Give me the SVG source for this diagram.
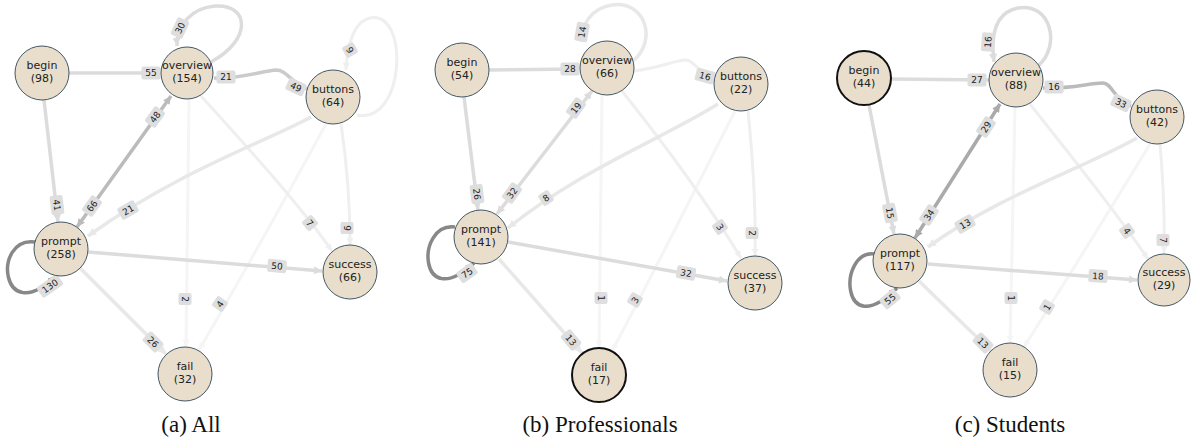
<svg xmlns="http://www.w3.org/2000/svg" width="1191" height="442" viewBox="0 0 1191 442">
<style>
.n{fill:#e8decb;stroke:#445866;stroke-width:1}
.n.hl{stroke:#111;stroke-width:2}
.nt{font-family:"DejaVu Sans",sans-serif;font-size:11px;fill:#222;text-anchor:middle}
.e{fill:none;stroke-width:3.5;stroke-linecap:butt}
.e1{stroke:#888}.e2{stroke:#aaa}.e3{stroke:#bbb}.e4{stroke:#cbcbcb}.e5{stroke:#dcdcdc}.e6{stroke:#e8e8e8}.e7{stroke:#efefef;stroke-width:3}.e8{stroke:#f5f5f5;stroke-width:3}
.lb rect{fill:#dedede}
.lb text{font-family:"DejaVu Sans",sans-serif;font-size:9px;fill:#222;text-anchor:middle}
.cap{font-family:"Liberation Serif",serif;font-size:23px;fill:#111;text-anchor:middle}
</style>
<defs>
<marker id="m1" viewBox="0 0 10 10" refX="10" refY="5" markerWidth="9" markerHeight="8" markerUnits="userSpaceOnUse" orient="auto-start-reverse"><path d="M0,0L10,5L0,10z" fill="#888"/></marker>
<marker id="m2" viewBox="0 0 10 10" refX="10" refY="5" markerWidth="9" markerHeight="8" markerUnits="userSpaceOnUse" orient="auto-start-reverse"><path d="M0,0L10,5L0,10z" fill="#aaa"/></marker>
<marker id="m3" viewBox="0 0 10 10" refX="10" refY="5" markerWidth="9" markerHeight="8" markerUnits="userSpaceOnUse" orient="auto-start-reverse"><path d="M0,0L10,5L0,10z" fill="#bbb"/></marker>
<marker id="m4" viewBox="0 0 10 10" refX="10" refY="5" markerWidth="9" markerHeight="8" markerUnits="userSpaceOnUse" orient="auto-start-reverse"><path d="M0,0L10,5L0,10z" fill="#cbcbcb"/></marker>
<marker id="m5" viewBox="0 0 10 10" refX="10" refY="5" markerWidth="9" markerHeight="8" markerUnits="userSpaceOnUse" orient="auto-start-reverse"><path d="M0,0L10,5L0,10z" fill="#dcdcdc"/></marker>
<marker id="m6" viewBox="0 0 10 10" refX="10" refY="5" markerWidth="9" markerHeight="8" markerUnits="userSpaceOnUse" orient="auto-start-reverse"><path d="M0,0L10,5L0,10z" fill="#e8e8e8"/></marker>
<marker id="m7" viewBox="0 0 10 10" refX="10" refY="5" markerWidth="8" markerHeight="7" markerUnits="userSpaceOnUse" orient="auto-start-reverse"><path d="M0,0L10,5L0,10z" fill="#efefef"/></marker>
<marker id="m8" viewBox="0 0 10 10" refX="10" refY="5" markerWidth="8" markerHeight="7" markerUnits="userSpaceOnUse" orient="auto-start-reverse"><path d="M0,0L10,5L0,10z" fill="#f5f5f5"/></marker>
</defs>
<rect width="1191" height="442" fill="#fff"/>

<g id="connectors">
<!-- panel a -->
<path class="e e8" d="M189,100 L186,347" marker-end="url(#m8)"/>
<path class="e e8" d="M326,124 C290,190 240,280 199,350" marker-end="url(#m8)"/>
<path class="e e7" d="M201,96 C250,150 300,205 332,251" marker-end="url(#m7)"/>
<path class="e e7" d="M341,124 C348,170 350,210 350,245" marker-end="url(#m7)"/>
<path class="e e7" d="M357,115 C405,125 410,10 370,18 C352,22 347,50 346,70" marker-end="url(#m7)"/>
<path class="e e6" d="M311,117 C270,140 180,170 88,236" marker-end="url(#m6)"/>
<path class="e e6" d="M80,268 L166,354" marker-end="url(#m6)"/>
<path class="e e5" d="M44,100 L58,222" marker-end="url(#m5)"/>
<path class="e e5" d="M88,252 L322,271" marker-end="url(#m5)"/>
<path class="e e5" d="M69,73 L160,73" marker-end="url(#m5)"/>
<path class="e e5" d="M211,62 C252,40 250,4 215,6 C192,8 176,25 177,46" marker-end="url(#m5)"/>
<path class="e e4" d="M214,78 C240,79 262,71 276,70 C287,70 290,82 307,89" marker-start="url(#m4)" marker-end="url(#m4)"/>
<path class="e e3" d="M77,227 L171,96" marker-start="url(#m3)" marker-end="url(#m3)"/>
<path class="e e1" d="M35,242 C-8,236 0,330 56,276" marker-end="url(#m1)"/>
<!-- panel b -->
<path class="e e8" d="M602,95 L599,348" marker-end="url(#m8)"/>
<path class="e e8" d="M735,111 C700,180 650,280 612,351" marker-end="url(#m8)"/>
<path class="e e7" d="M622,91 C665,145 712,210 741,258" marker-end="url(#m7)"/>
<path class="e e7" d="M748,111 C753,160 756,210 755,256" marker-end="url(#m7)"/>
<path class="e e7" d="M634,71 C660,68 675,60 686,60 C694,60 697,72 714,80" marker-end="url(#m7)"/>
<path class="e e6" d="M718,104 C660,140 580,170 508,228" marker-end="url(#m6)"/>
<path class="e e6" d="M499,259 L582,353" marker-end="url(#m6)"/>
<path class="e e6" d="M633,61 C658,40 645,0 612,5 C592,8 580,25 582,42" marker-end="url(#m6)"/>
<path class="e e5" d="M464,97 L478,210" marker-end="url(#m5)"/>
<path class="e e5" d="M489,70 L579,69" marker-end="url(#m5)"/>
<path class="e e5" d="M508,242 L727,281" marker-end="url(#m5)"/>
<path class="e e5" d="M497,214 L592,91" marker-start="url(#m5)" marker-end="url(#m5)"/>
<path class="e e1" d="M455,227 C415,222 418,315 474,263" marker-end="url(#m1)"/>
<!-- panel c -->
<path class="e e8" d="M1015,107 L1010,343" marker-end="url(#m8)"/>
<path class="e e8" d="M1150,144 C1110,210 1060,290 1024,347" marker-end="url(#m8)"/>
<path class="e e7" d="M1030,104 C1070,155 1115,210 1148,259" marker-end="url(#m7)"/>
<path class="e e7" d="M1160,144 C1163,180 1165,220 1164,253" marker-end="url(#m7)"/>
<path class="e e6" d="M1137,138 C1080,170 1000,195 928,247" marker-end="url(#m6)"/>
<path class="e e6" d="M919,281 L991,351" marker-end="url(#m6)"/>
<path class="e e5" d="M869,105 L894,234" marker-end="url(#m5)"/>
<path class="e e5" d="M891,79 L989,80" marker-end="url(#m5)"/>
<path class="e e5" d="M928,264 L1137,280" marker-end="url(#m5)"/>
<path class="e e5" d="M1038,66 C1062,45 1050,2 1018,8 C998,12 990,30 994,62" marker-end="url(#m5)"/>
<path class="e e3" d="M1043,88 C1070,89 1090,83 1103,83 C1112,83 1114,100 1131,106" marker-start="url(#m3)" marker-end="url(#m3)"/>
<path class="e e2" d="M915,238 L1000,104" marker-start="url(#m2)" marker-end="url(#m2)"/>
<path class="e e1" d="M874,254 C838,250 840,345 897,288" marker-end="url(#m1)"/>

<!-- labels panel a -->
<g class="lb" transform="translate(185,299) rotate(90)"><rect x="-6" y="-6.5" width="12" height="13" rx="2"/><text y="3.3">2</text></g>
<g class="lb" transform="translate(220,304) rotate(-55)"><rect x="-6" y="-6.5" width="12" height="13" rx="2"/><text y="3.3">4</text></g>
<g class="lb" transform="translate(310,223) rotate(50)"><rect x="-6" y="-6.5" width="12" height="13" rx="2"/><text y="3.3">7</text></g>
<g class="lb" transform="translate(347,228) rotate(90)"><rect x="-6" y="-6.5" width="12" height="13" rx="2"/><text y="3.3">9</text></g>
<g class="lb" transform="translate(350,50) rotate(60)"><rect x="-6" y="-6.5" width="12" height="13" rx="2"/><text y="3.3">9</text></g>
<g class="lb" transform="translate(128,210) rotate(-30)"><rect x="-9.5" y="-6.5" width="19" height="13" rx="2"/><text y="3.3">21</text></g>
<g class="lb" transform="translate(153,342) rotate(45)"><rect x="-9.5" y="-6.5" width="19" height="13" rx="2"/><text y="3.3">26</text></g>
<g class="lb" transform="translate(57,205) rotate(83)"><rect x="-9.5" y="-6.5" width="19" height="13" rx="2"/><text y="3.3">41</text></g>
<g class="lb" transform="translate(277,266) rotate(5)"><rect x="-9.5" y="-6.5" width="19" height="13" rx="2"/><text y="3.3">50</text></g>
<g class="lb" transform="translate(151,73)"><rect x="-9.5" y="-6.5" width="19" height="13" rx="2"/><text y="3.3">55</text></g>
<g class="lb" transform="translate(180,28) rotate(-65)"><rect x="-9.5" y="-6.5" width="19" height="13" rx="2"/><text y="3.3">30</text></g>
<g class="lb" transform="translate(226,77)"><rect x="-9.5" y="-6.5" width="19" height="13" rx="2"/><text y="3.3">21</text></g>
<g class="lb" transform="translate(296,87) rotate(25)"><rect x="-9.5" y="-6.5" width="19" height="13" rx="2"/><text y="3.3">49</text></g>
<g class="lb" transform="translate(155,117) rotate(-54)"><rect x="-9.5" y="-6.5" width="19" height="13" rx="2"/><text y="3.3">48</text></g>
<g class="lb" transform="translate(92,206) rotate(-54)"><rect x="-9.5" y="-6.5" width="19" height="13" rx="2"/><text y="3.3">66</text></g>
<g class="lb" transform="translate(50,286) rotate(-35)"><rect x="-12.5" y="-6.5" width="25" height="13" rx="2"/><text y="3.3">130</text></g>
<!-- labels panel b -->
<g class="lb" transform="translate(601,298) rotate(90)"><rect x="-6" y="-6.5" width="12" height="13" rx="2"/><text y="3.3">1</text></g>
<g class="lb" transform="translate(635,300) rotate(-60)"><rect x="-6" y="-6.5" width="12" height="13" rx="2"/><text y="3.3">3</text></g>
<g class="lb" transform="translate(720,227) rotate(55)"><rect x="-6" y="-6.5" width="12" height="13" rx="2"/><text y="3.3">3</text></g>
<g class="lb" transform="translate(752,233) rotate(90)"><rect x="-6" y="-6.5" width="12" height="13" rx="2"/><text y="3.3">2</text></g>
<g class="lb" transform="translate(705,76) rotate(15)"><rect x="-9.5" y="-6.5" width="19" height="13" rx="2"/><text y="3.3">16</text></g>
<g class="lb" transform="translate(546,198) rotate(-35)"><rect x="-6" y="-6.5" width="12" height="13" rx="2"/><text y="3.3">8</text></g>
<g class="lb" transform="translate(571,340) rotate(50)"><rect x="-9.5" y="-6.5" width="19" height="13" rx="2"/><text y="3.3">13</text></g>
<g class="lb" transform="translate(582,32) rotate(-80)"><rect x="-9.5" y="-6.5" width="19" height="13" rx="2"/><text y="3.3">14</text></g>
<g class="lb" transform="translate(477,194) rotate(83)"><rect x="-9.5" y="-6.5" width="19" height="13" rx="2"/><text y="3.3">26</text></g>
<g class="lb" transform="translate(570,69)"><rect x="-9.5" y="-6.5" width="19" height="13" rx="2"/><text y="3.3">28</text></g>
<g class="lb" transform="translate(686,273) rotate(10)"><rect x="-9.5" y="-6.5" width="19" height="13" rx="2"/><text y="3.3">32</text></g>
<g class="lb" transform="translate(576,108) rotate(-54)"><rect x="-9.5" y="-6.5" width="19" height="13" rx="2"/><text y="3.3">19</text></g>
<g class="lb" transform="translate(512,193) rotate(-54)"><rect x="-9.5" y="-6.5" width="19" height="13" rx="2"/><text y="3.3">32</text></g>
<g class="lb" transform="translate(467,273) rotate(-35)"><rect x="-9.5" y="-6.5" width="19" height="13" rx="2"/><text y="3.3">75</text></g>
<!-- labels panel c -->
<g class="lb" transform="translate(1011,298) rotate(90)"><rect x="-6" y="-6.5" width="12" height="13" rx="2"/><text y="3.3">1</text></g>
<g class="lb" transform="translate(1047,307) rotate(-60)"><rect x="-6" y="-6.5" width="12" height="13" rx="2"/><text y="3.3">1</text></g>
<g class="lb" transform="translate(1127,231) rotate(55)"><rect x="-6" y="-6.5" width="12" height="13" rx="2"/><text y="3.3">4</text></g>
<g class="lb" transform="translate(1163,240) rotate(90)"><rect x="-6" y="-6.5" width="12" height="13" rx="2"/><text y="3.3">7</text></g>
<g class="lb" transform="translate(965,224) rotate(-30)"><rect x="-9.5" y="-6.5" width="19" height="13" rx="2"/><text y="3.3">13</text></g>
<g class="lb" transform="translate(983,343) rotate(45)"><rect x="-9.5" y="-6.5" width="19" height="13" rx="2"/><text y="3.3">13</text></g>
<g class="lb" transform="translate(890,213) rotate(79)"><rect x="-9.5" y="-6.5" width="19" height="13" rx="2"/><text y="3.3">15</text></g>
<g class="lb" transform="translate(977,80)"><rect x="-9.5" y="-6.5" width="19" height="13" rx="2"/><text y="3.3">27</text></g>
<g class="lb" transform="translate(1098,276) rotate(4)"><rect x="-9.5" y="-6.5" width="19" height="13" rx="2"/><text y="3.3">18</text></g>
<g class="lb" transform="translate(988,42) rotate(-85)"><rect x="-9.5" y="-6.5" width="19" height="13" rx="2"/><text y="3.3">16</text></g>
<g class="lb" transform="translate(1054,87)"><rect x="-9.5" y="-6.5" width="19" height="13" rx="2"/><text y="3.3">16</text></g>
<g class="lb" transform="translate(1121,103) rotate(25)"><rect x="-9.5" y="-6.5" width="19" height="13" rx="2"/><text y="3.3">33</text></g>
<g class="lb" transform="translate(986,127) rotate(-57)"><rect x="-9.5" y="-6.5" width="19" height="13" rx="2"/><text y="3.3">29</text></g>
<g class="lb" transform="translate(929,215) rotate(-57)"><rect x="-9.5" y="-6.5" width="19" height="13" rx="2"/><text y="3.3">34</text></g>
<g class="lb" transform="translate(890,299) rotate(-40)"><rect x="-9.5" y="-6.5" width="19" height="13" rx="2"/><text y="3.3">55</text></g>
</g>

<!-- nodes panel a -->
<g id="a-begin"><circle class="n" cx="42" cy="73" r="27"/><text class="nt" x="42" y="69">begin</text><text class="nt" x="42" y="82">(98)</text></g>
<g id="a-overview"><circle class="n" cx="187" cy="73" r="26"/><text class="nt" x="187" y="69">overview</text><text class="nt" x="187" y="82">(154)</text></g>
<g id="a-buttons"><circle class="n" cx="333" cy="97" r="27"/><text class="nt" x="333" y="93">buttons</text><text class="nt" x="333" y="106">(64)</text></g>
<g id="a-prompt"><circle class="n" cx="61" cy="249" r="27"/><text class="nt" x="61" y="245">prompt</text><text class="nt" x="61" y="258">(258)</text></g>
<g id="a-success"><circle class="n" cx="350" cy="272" r="27"/><text class="nt" x="350" y="268">success</text><text class="nt" x="350" y="281">(66)</text></g>
<g id="a-fail"><circle class="n" cx="185" cy="374" r="27"/><text class="nt" x="185" y="370">fail</text><text class="nt" x="185" y="383">(32)</text></g>
<!-- nodes panel b -->
<g id="b-begin"><circle class="n" cx="462" cy="70" r="27"/><text class="nt" x="462" y="66">begin</text><text class="nt" x="462" y="79">(54)</text></g>
<g id="b-overview"><circle class="n" cx="607" cy="68" r="27"/><text class="nt" x="607" y="64">overview</text><text class="nt" x="607" y="77">(66)</text></g>
<g id="b-buttons"><circle class="n" cx="741" cy="84" r="27"/><text class="nt" x="741" y="80">buttons</text><text class="nt" x="741" y="93">(22)</text></g>
<g id="b-prompt"><circle class="n" cx="481" cy="237" r="27"/><text class="nt" x="481" y="233">prompt</text><text class="nt" x="481" y="246">(141)</text></g>
<g id="b-success"><circle class="n" cx="755" cy="283" r="27"/><text class="nt" x="755" y="279">success</text><text class="nt" x="755" y="292">(37)</text></g>
<g id="b-fail"><circle class="n hl" cx="599" cy="375" r="27"/><text class="nt" x="599" y="371">fail</text><text class="nt" x="599" y="384">(17)</text></g>
<!-- nodes panel c -->
<g id="c-begin"><circle class="n hl" cx="864" cy="78" r="27"/><text class="nt" x="864" y="74">begin</text><text class="nt" x="864" y="87">(44)</text></g>
<g id="c-overview"><circle class="n" cx="1016" cy="80" r="27"/><text class="nt" x="1016" y="76">overview</text><text class="nt" x="1016" y="89">(88)</text></g>
<g id="c-buttons"><circle class="n" cx="1157" cy="117" r="27"/><text class="nt" x="1157" y="113">buttons</text><text class="nt" x="1157" y="126">(42)</text></g>
<g id="c-prompt"><circle class="n" cx="900" cy="261" r="27"/><text class="nt" x="900" y="257">prompt</text><text class="nt" x="900" y="270">(117)</text></g>
<g id="c-success"><circle class="n" cx="1164" cy="280" r="26"/><text class="nt" x="1164" y="276">success</text><text class="nt" x="1164" y="289">(29)</text></g>
<g id="c-fail"><circle class="n" cx="1010" cy="370" r="27"/><text class="nt" x="1010" y="366">fail</text><text class="nt" x="1010" y="379">(15)</text></g>

<g id="captions">
<text class="cap" x="191" y="432">(a) All</text>
<text class="cap" x="600" y="432">(b) Professionals</text>
<text class="cap" x="1010" y="432">(c) Students</text>
</g>
</svg>
